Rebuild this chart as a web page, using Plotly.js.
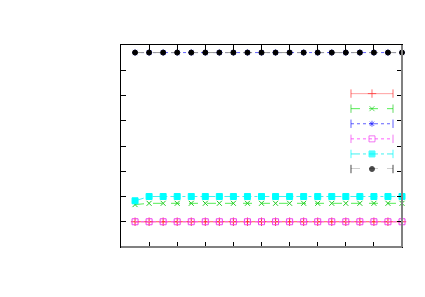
<!DOCTYPE html>
<html>
<head>
<meta charset="utf-8">
<script src="https://cdn.plot.ly/plotly-3.0.1.min.js"></script>
<style>html,body{margin:0;padding:0;background:#fff;}#chart{width:425px;height:297px;}</style>
</head>
<body>
<div id="chart"></div>
<script>
var xValues = [0.5, 1, 1.5, 2, 2.5, 3, 3.5, 4, 4.5, 5, 5.5, 6, 6.5, 7, 7.5, 8, 8.5, 9, 9.5, 10];
var redSeries     = [1.0, 1.0, 1.0, 1.0, 1.0, 1.0, 1.0, 1.0, 1.0, 1.0, 1.0, 1.0, 1.0, 1.0, 1.0, 1.0, 1.0, 1.0, 1.0, 1.0];
var greenSeries   = [1.68, 1.73, 1.73, 1.73, 1.73, 1.73, 1.73, 1.73, 1.73, 1.73, 1.73, 1.73, 1.73, 1.73, 1.73, 1.73, 1.73, 1.73, 1.73, 1.73];
var blueSeries    = [7.7, 7.7, 7.7, 7.7, 7.7, 7.7, 7.7, 7.7, 7.7, 7.7, 7.7, 7.7, 7.7, 7.7, 7.7, 7.7, 7.7, 7.7, 7.7, 7.7];
var magentaSeries = [1.0, 1.0, 1.0, 1.0, 1.0, 1.0, 1.0, 1.0, 1.0, 1.0, 1.0, 1.0, 1.0, 1.0, 1.0, 1.0, 1.0, 1.0, 1.0, 1.0];
var cyanSeries    = [1.83, 2.0, 2.0, 2.0, 2.0, 2.0, 2.0, 2.0, 2.0, 2.0, 2.0, 2.0, 2.0, 2.0, 2.0, 2.0, 2.0, 2.0, 2.0, 2.0];
var blackSeries   = [7.7, 7.7, 7.7, 7.7, 7.7, 7.7, 7.7, 7.7, 7.7, 7.7, 7.7, 7.7, 7.7, 7.7, 7.7, 7.7, 7.7, 7.7, 7.7, 7.7];
var legendX = [0, 0.5, 1];
var legendRows = [1, 2, 3, 4, 5, 6];

var styles = [
  {data: redSeries,     color: '#ff5050', dash: 'solid',   sym: 'cross-thin-open', size: 6, mcolor: '#ff3030'},
  {data: greenSeries,   color: '#55ee55', dash: 'dash',    sym: 'x-thin-open',     size: 5, mcolor: '#22cc22'},
  {data: blueSeries,    color: '#6060ff', dash: 'dot',     sym: 'asterisk-open',   size: 5, mcolor: '#2020ff'},
  {data: magentaSeries, color: '#ff60ff', dash: 'dot',     sym: 'square-open',     size: 6, mcolor: '#ee40ee'},
  {data: cyanSeries,    color: '#40f0f0', dash: 'dashdot', sym: 'square',          size: 6, mcolor: '#00ffff'},
  {data: blackSeries,   color: '#999999', dash: 'dash',    sym: 'circle',          size: 5, mcolor: '#000000'}
];

var traces = [];
styles.forEach(function (s) {
  traces.push({
    x: xValues, y: s.data, type: 'scatter', mode: 'lines+markers',
    line: {color: s.color, width: 1, dash: s.dash},
    marker: {symbol: s.sym, size: s.size, color: s.mcolor, line: {color: s.mcolor, width: 1}},
    showlegend: false, hoverinfo: 'none', cliponaxis: false
  });
});
styles.forEach(function (s, i) {
  var r = legendRows[i];
  traces.push({
    x: legendX, y: [r, r, r], xaxis: 'x2', yaxis: 'y2', type: 'scatter', mode: 'lines+markers',
    line: {color: s.color, width: 1, dash: s.dash},
    marker: {symbol: ['line-ns-open', s.sym, 'line-ns-open'], size: [6, s.size, 6],
             color: s.mcolor, line: {color: s.mcolor, width: 1}},
    showlegend: false, hoverinfo: 'none', cliponaxis: false
  });
});

var layout = {
  width: 425, height: 297,
  margin: {l: 121, r: 23, t: 45, b: 50, pad: 0},
  paper_bgcolor: '#ffffff', plot_bgcolor: '#ffffff',
  showlegend: false,
  xaxis: {range: [0, 10], dtick: 1, tick0: 0, ticks: 'inside', ticklen: 5, tickcolor: '#000',
          showticklabels: false, showgrid: false, zeroline: false,
          showline: true, linecolor: '#000', linewidth: 1, mirror: 'ticks'},
  yaxis: {range: [0, 8], dtick: 1, tick0: 0, ticks: 'inside', ticklen: 5, tickcolor: '#000',
          showticklabels: false, showgrid: false, zeroline: false,
          showline: true, linecolor: '#000', linewidth: 1, mirror: 'ticks'},
  xaxis2: {domain: [0.8185, 0.968], range: [0, 1], anchor: 'y2', visible: false, fixedrange: true},
  yaxis2: {domain: [0.386, 0.7595], range: [6, 1], anchor: 'x2', visible: false, fixedrange: true},
  shapes: [
    {type: 'line', xref: 'paper', yref: 'paper', x0: 1, x1: 1, y0: 0, y1: 1, line: {color: '#808080', width: 2}},
    {type: 'line', xref: 'paper', yref: 'paper', x0: 0, x1: 1, y0: 0, y1: 0, line: {color: '#808080', width: 2}}
  ]
};

Plotly.newPlot('chart', traces, layout, {staticPlot: true, displayModeBar: false});
</script>
</body>
</html>
